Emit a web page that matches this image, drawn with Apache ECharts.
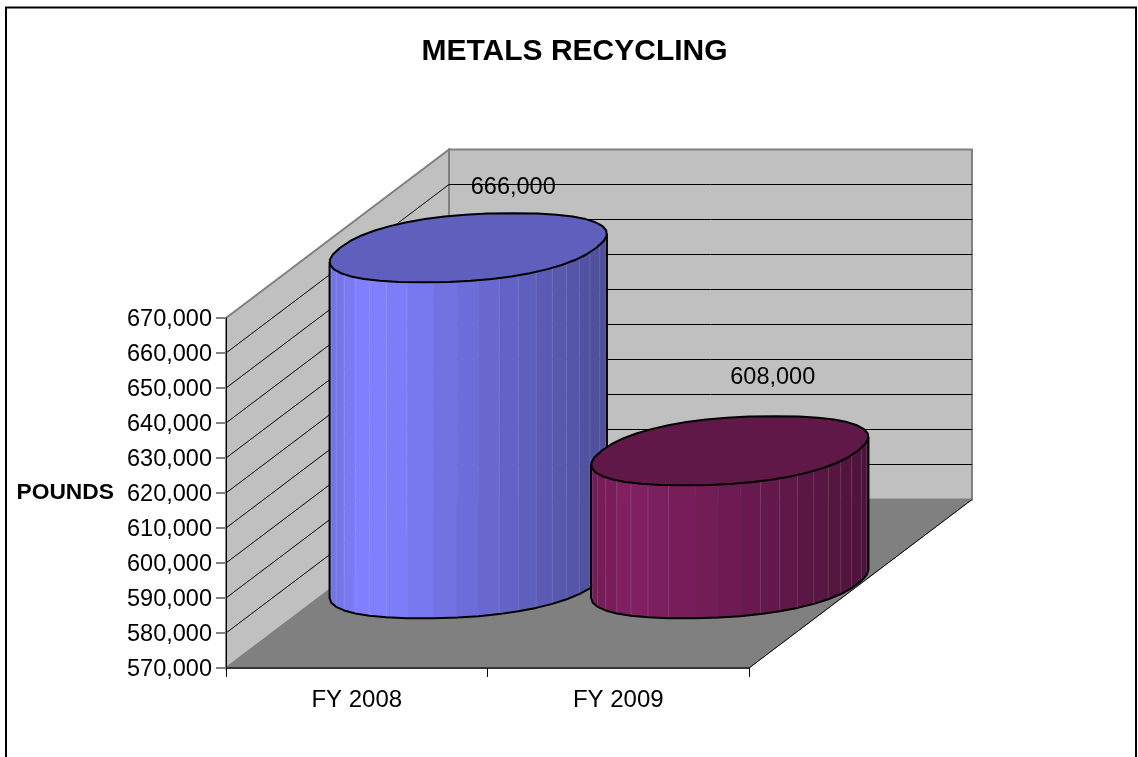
<!DOCTYPE html>
<html>
<head>
<meta charset="utf-8">
<style>html,body{margin:0;padding:0;background:#fff;overflow:hidden}#c{width:1138px;height:757px}</style>
<script src="https://cdn.jsdelivr.net/npm/echarts@6/dist/echarts.min.js"></script>
</head>
<body>
<div id="c"></div>
<script>
const categories = ['FY 2008', 'FY 2009'];
const pounds = [666000, 608000];
const barColors = ['#8080FF', '#802060'];
const yTicks = [570000, 580000, 590000, 600000, 610000, 620000, 630000, 640000, 650000, 660000, 670000];

const FONT = '"Liberation Sans", Arial, sans-serif';
const DEPTH_X = 223, DEPTH_Y = 168.5;
const labelShift = [[45, -60], [43, -73]];
const BLUNT = 0.88;

function shade(hex, k) {
  const n = parseInt(hex.slice(1), 16);
  const c = [(n >> 16) & 255, (n >> 8) & 255, n & 255].map(v => Math.round(v * k));
  return 'rgb(' + c.join(',') + ')';
}
function sideLight(f) {
  if (f < 0.12) return 0.88 + f;
  if (f < 0.2) return 1;
  return 1 - (f - 0.2) * 0.5;
}
function spow(v) { return Math.sign(v) * Math.pow(Math.abs(v), BLUNT); }

function renderWalls(params, api) {
  const cs = params.coordSys;
  const L = cs.x, R = cs.x + cs.width, T = cs.y, B = cs.y + cs.height;
  const dx = DEPTH_X, dy = DEPTH_Y;
  const children = [
    { type: 'polygon', shape: { points: [[L + dx, T - dy], [R + dx, T - dy], [R + dx, B - dy], [L + dx, B - dy]] },
      style: { fill: '#C0C0C0', stroke: '#808080', lineWidth: 2 } },
    { type: 'polygon', shape: { points: [[L, T], [L + dx, T - dy], [L + dx, B - dy], [L, B]] },
      style: { fill: '#C0C0C0', stroke: '#808080', lineWidth: 2 } }
  ];
  yTicks.slice(1, -1).forEach(v => {
    const y = api.coord([0, v])[1];
    children.push({ type: 'polyline', shape: { points: [[L, y], [L + dx, y - dy], [R + dx, y - dy]] },
      style: { fill: 'none', stroke: '#000', lineWidth: 1 } });
  });
  children.push({ type: 'polygon', shape: { points: [[L, B], [R, B], [R + dx, B - dy], [L + dx, B - dy]] },
    style: { fill: '#808080', stroke: '#808080', lineWidth: 1 } });
  children.push({ type: 'line', shape: { x1: R, y1: B, x2: R + dx, y2: B - dy },
    style: { stroke: '#000', lineWidth: 1 } });
  return { type: 'group', children };
}

function renderCylinder(params, api) {
  const i = api.value(0), v = api.value(1);
  const front = api.coord([i, v]);
  const base = api.coord([i, yTicks[0]]);
  const a = api.size([1, 0])[0] / 2 * 0.98;
  const bx = DEPTH_X * 0.2, by = DEPTH_Y * 0.205;
  const cx = front[0] + DEPTH_X / 2;
  const topY = front[1] - DEPTH_Y / 2, botY = base[1] - DEPTH_Y / 2;
  const color = barColors[i];
  const pt = (t, cy) => [cx + a * spow(Math.cos(t)) + bx * spow(Math.sin(t)), cy - by * spow(Math.sin(t))];
  let t0 = 0, best = -Infinity;
  for (let k = 0; k < 720; k++) {
    const t = k / 720 * Math.PI / 2, x = pt(t, 0)[0];
    if (x > best) { best = x; t0 = t; }
  }
  const M = 20, children = [];
  const R = best - cx;
  for (let k = 0; k < M; k++) {
    const t1 = t0 + Math.PI + Math.PI * k / M, t2 = t0 + Math.PI + Math.PI * (k + 1) / M;
    const p1 = pt(t1, topY), p2 = pt(t2, topY), p3 = pt(t2, botY), p4 = pt(t1, botY);
    const f = ((p1[0] + p2[0]) / 2 - (cx - R)) / (2 * R);
    const col = shade(color, sideLight(f));
    children.push({ type: 'polygon', shape: { points: [p1, p2, p3, p4] }, style: { fill: col, stroke: col, lineWidth: 0.5 } });
  }
  for (let k = 1; k < M; k++) {
    const t = t0 + Math.PI + Math.PI * k / M;
    const p = pt(t, topY), q = pt(t, botY);
    const f = (p[0] - (cx - R)) / (2 * R);
    if (f > 0.3 && f < 0.55) continue;
    children.push({ type: 'line', shape: { x1: p[0], y1: p[1], x2: q[0], y2: q[1] },
      style: { stroke: 'rgba(255,255,255,0.12)', lineWidth: 1 } });
  }
  const outline = [];
  outline.push(pt(t0 + Math.PI, topY));
  for (let k = 0; k <= M; k++) outline.push(pt(t0 + Math.PI + Math.PI * k / M, botY));
  outline.push(pt(t0, topY));
  children.push({ type: 'polyline', shape: { points: outline },
    style: { fill: 'none', stroke: '#000', lineWidth: 2, lineJoin: 'round' } });
  const cap = [];
  for (let k = 0; k < 40; k++) cap.push(pt(2 * Math.PI * k / 40, topY));
  children.push({ type: 'polygon', shape: { points: cap },
    style: { fill: shade(color, 0.745), stroke: '#000', lineWidth: 2, lineJoin: 'round' } });
  children.push({ type: 'text', style: {
    text: v.toLocaleString('en-US'), x: cx + labelShift[i][0], y: topY + labelShift[i][1],
    fill: '#000', font: '23.5px ' + FONT, align: 'center', verticalAlign: 'middle' } });
  return { type: 'group', children };
}

const chart = echarts.init(document.getElementById('c'), null, { renderer: 'canvas' });
chart.setOption({
  animation: false,
  backgroundColor: '#fff',
  title: {
    text: 'METALS RECYCLING', left: 569.5, top: 32, textAlign: 'center',
    textStyle: { fontFamily: FONT, fontSize: 30, fontWeight: 'bold', color: '#000' }
  },
  graphic: [{ type: 'rect', silent: true, shape: { x: 6, y: 7.5, width: 1130, height: 770 },
    style: { fill: 'none', stroke: '#000', lineWidth: 2 }, z: 100 }],
  grid: { left: 226, top: 318, width: 523, height: 350, containLabel: false },
  xAxis: {
    type: 'category', data: categories, z: 10,
    axisLine: { show: true, lineStyle: { color: '#333', width: 2 } },
    axisTick: { show: true, alignWithLabel: false, length: 9, lineStyle: { color: '#000', width: 1 } },
    axisLabel: { fontFamily: FONT, fontSize: 24, color: '#000', margin: 20 }
  },
  yAxis: {
    type: 'value', min: 570000, max: 670000, interval: 10000, z: 10,
    name: 'POUNDS', nameLocation: 'middle', nameRotate: 0, nameGap: 112,
    nameTextStyle: { fontFamily: FONT, fontSize: 22.8, fontWeight: 'bold', color: '#000', align: 'right', verticalAlign: 'middle' },
    axisLine: { show: true, lineStyle: { color: '#000', width: 1 } },
    axisTick: { show: true, length: 10, lineStyle: { color: '#808080', width: 2 } },
    axisLabel: { fontFamily: FONT, fontSize: 23.5, color: '#000', margin: 14, verticalAlign: 'top', lineHeight: 4,
      formatter: v => v.toLocaleString('en-US') },
    splitLine: { show: false }
  },
  series: [
    { type: 'custom', coordinateSystem: 'cartesian2d', silent: true, z: 1, renderItem: renderWalls, data: [[0, yTicks[0]]] },
    { type: 'custom', coordinateSystem: 'cartesian2d', silent: true, z: 2, renderItem: renderCylinder,
      encode: { x: 0, y: 1 }, data: pounds.map((v, i) => [i, v]) }
  ]
});
</script>
</body>
</html>
